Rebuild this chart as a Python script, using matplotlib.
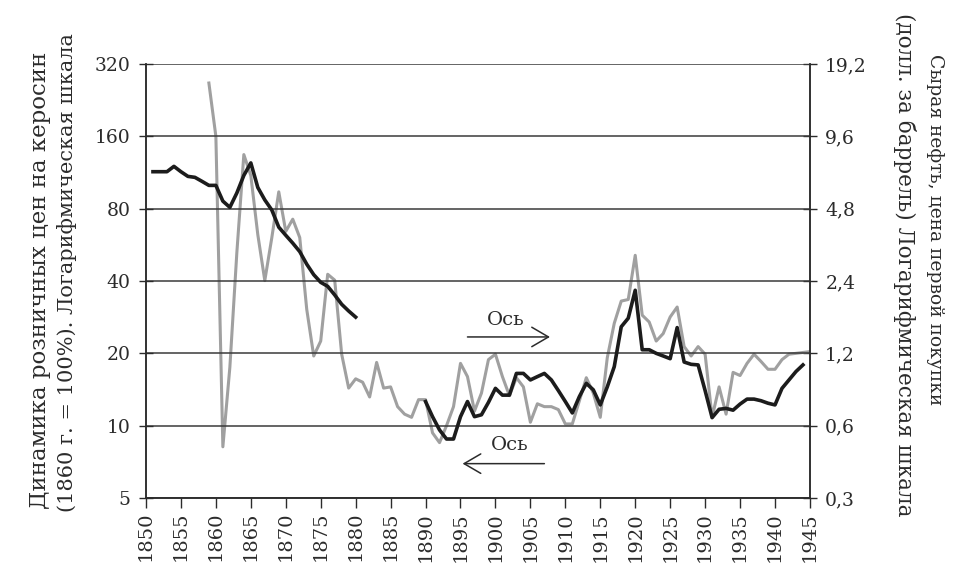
import numpy as np
import matplotlib
matplotlib.use("Agg")
from matplotlib import pyplot as plt
from matplotlib.ticker import FixedLocator, NullLocator

# kerosene retail price index (1860 = 100%), left axis
ker_years1 = list(range(1851, 1881))
ker_vals1 = [114, 114, 114, 120, 114, 109, 108, 104, 100, 100,
             86, 81, 93, 110, 124, 98, 87, 79, 67, 62,
             57.5, 53, 47, 42.5, 39.5, 38, 35, 32, 30, 28.3]
ker_years2 = list(range(1890, 1945))
ker_vals2 = [12.6, 10.9, 9.6, 8.8, 8.8, 10.9, 12.6, 10.9, 11.1, 12.5,
             14.3, 13.4, 13.4, 16.5, 16.5, 15.5, 16.0, 16.5, 15.5, 14.0,
             12.6, 11.3, 13.2, 15.0, 14.1, 12.2, 14.5, 17.6, 25.8, 28.0,
             36.6, 20.7, 20.7, 20.0, 19.5, 19.0, 25.6, 18.4, 18.0, 17.9,
             14.0, 10.8, 11.7, 11.8, 11.6, 12.3, 12.9, 12.9, 12.7, 12.4,
             12.2, 14.3, 15.5, 16.8, 17.9]

# crude oil, first purchase price ($/bbl), right axis
crude_years = list(range(1859, 1946))
crude_vals = [16.0, 9.6, 0.49, 1.05, 3.15, 8.06, 6.59, 3.74, 2.41, 3.63,
              5.64, 3.86, 4.34, 3.64, 1.83, 1.17, 1.35, 2.56, 2.42, 1.19,
              0.86, 0.94, 0.91, 0.79, 1.10, 0.86, 0.87, 0.72, 0.67, 0.65,
              0.77, 0.77, 0.56, 0.51, 0.60, 0.72, 1.09, 0.96, 0.69, 0.82,
              1.13, 1.19, 0.96, 0.80, 0.95, 0.87, 0.62, 0.74, 0.72, 0.72,
              0.70, 0.61, 0.61, 0.76, 0.95, 0.82, 0.65, 1.15, 1.60, 1.98,
              2.01, 3.07, 1.73, 1.62, 1.35, 1.45, 1.70, 1.87, 1.28, 1.17,
              1.28, 1.19, 0.65, 0.87, 0.67, 1.00, 0.97, 1.09, 1.19, 1.11,
              1.03, 1.03, 1.13, 1.19, 1.20, 1.21, 1.22]

left_ticks = [5, 10, 20, 40, 80, 160, 320]
right_ticks = [0.3, 0.6, 1.2, 2.4, 4.8, 9.6, 19.2]
right_labels = ["0,3", "0,6", "1,2", "2,4", "4,8", "9,6", "19,2"]
x_ticks = list(range(1850, 1946, 5))

plt.rcParams['font.family'] = ['DejaVu Serif']
ink = '#2b2b2b'

fig = plt.figure(figsize=(9.7, 5.76), dpi=100)
ax = fig.add_axes([0.1505, 0.1354, 0.6845, 0.7535])
ax2 = ax.twinx()

ax.set_yscale('log')
ax.set_ylim(5, 320)
ax.set_xlim(1850, 1945)
ax.yaxis.set_major_locator(FixedLocator(left_ticks))
ax.yaxis.set_minor_locator(NullLocator())
ax.set_yticklabels([str(t) for t in left_ticks])
ax.set_xticks(x_ticks)
ax.set_xticklabels([str(t) for t in x_ticks], rotation=90)
ax.grid(axis='y', color='#3a3a3a', linewidth=1.1)
ax.set_axisbelow(True)

ax2.set_yscale('log')
ax2.set_ylim(0.3, 19.2)
ax2.yaxis.set_major_locator(FixedLocator(right_ticks))
ax2.yaxis.set_minor_locator(NullLocator())
ax2.set_yticklabels(right_labels)

for a in (ax, ax2):
    for s in a.spines.values():
        s.set_color(ink)
        s.set_linewidth(1.1)
    a.spines['top'].set_visible(False)
ax.tick_params(axis='y', direction='inout', length=10, width=1.0, colors=ink, labelsize=13.5, pad=6)
ax2.tick_params(axis='y', direction='inout', length=10, width=1.0, colors=ink, labelsize=13.5, pad=6)
ax.tick_params(axis='x', direction='out', length=7, width=1.0, colors=ink, labelsize=14, pad=3)

ax2.plot(crude_years, crude_vals, color='#a0a0a0', linewidth=2.2, zorder=2)
ax.plot(ker_years1, ker_vals1, color='#1c1c1c', linewidth=2.6, zorder=3)
ax.plot(ker_years2, ker_vals2, color='#1c1c1c', linewidth=2.6, zorder=3)
ax.set_zorder(ax2.get_zorder() + 1)
ax.patch.set_visible(False)

# axis direction hints
arrow = dict(arrowstyle='->,head_length=1.2,head_width=0.7', color=ink, lw=1.1)
ax.annotate('', xy=(1908.2, 23.4), xytext=(1895.6, 23.4), arrowprops=arrow)
ax.text(1901.5, 27.4, 'Ось', ha='center', va='center', fontsize=14, color=ink)
ax.annotate('', xy=(1894.9, 6.95), xytext=(1907.4, 6.95), arrowprops=arrow)
ax.text(1902.1, 8.33, 'Ось', ha='center', va='center', fontsize=14, color=ink)

fig.text(40 / 970, 1 - 280 / 576, 'Динамика розничных цен на керосин',
         rotation=90, ha='center', va='center', fontsize=16.5, color=ink)
fig.text(67 / 970, 1 - 273 / 576, '(1860 г. = 100%). Логарифмическая шкала',
         rotation=90, ha='center', va='center', fontsize=15, color=ink)
fig.text(935 / 970, 1 - 230 / 576, 'Сырая нефть, цена первой покупки',
         rotation=270, ha='center', va='center', fontsize=13.5, color=ink)
fig.text(905 / 970, 1 - 265 / 576, '(долл. за баррель) Логарифмическая шкала',
         rotation=270, ha='center', va='center', fontsize=15.5, color=ink)

fig.savefig('out.png', dpi=100)
